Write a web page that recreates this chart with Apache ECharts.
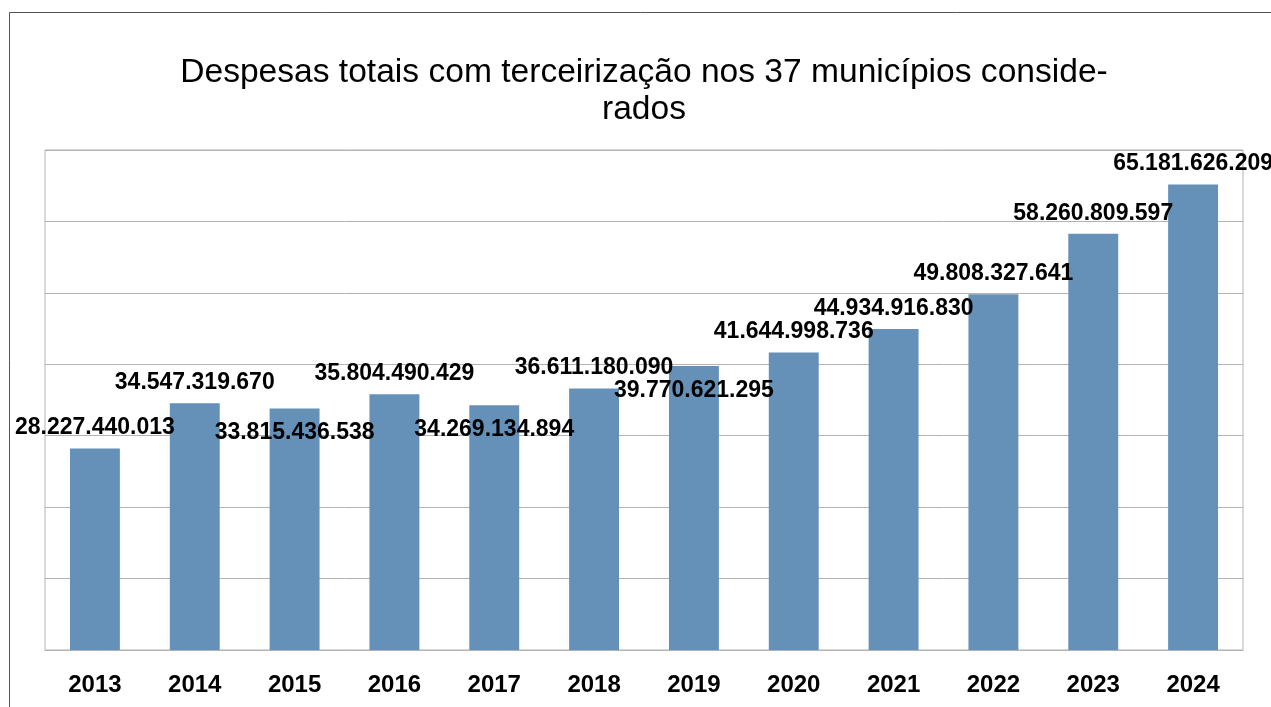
<!DOCTYPE html>
<html>
<head>
    <meta charset="utf-8">
    <title>Despesas totais com terceirização</title>
    <script src="https://cdn.jsdelivr.net/npm/echarts@6/dist/echarts.min.js"></script>
    <style>
        html, body { margin: 0; padding: 0; background: #fff; }
        #chart { width: 1271px; height: 707px; }
    </style>
</head>
<body>
    <div id="chart"></div>
    <script type="text/javascript">
        var years = ['2013', '2014', '2015', '2016', '2017', '2018', '2019', '2020', '2021', '2022', '2023', '2024'];
        var despesas = [28227440013, 34547319670, 33815436538, 35804490429, 34269134894, 36611180090,
                        39770621295, 41644998736, 44934916830, 49808327641, 58260809597, 65181626209];
        // anos cujo rótulo fica abaixo do topo da barra (como no original)
        var rotuloBaixo = ['2015', '2017', '2019'];

        function formata(v) {
            return String(v).replace(/\B(?=(\d{3})+(?!\d))/g, '.');
        }

        var dados = years.map(function (ano, i) {
            var item = { value: despesas[i] };
            if (rotuloBaixo.indexOf(ano) >= 0) {
                item.label = { position: 'insideTop', distance: 13 };
            }
            return item;
        });

        var myChart = echarts.init(document.getElementById('chart'));
        var option = {
            backgroundColor: '#fff',
            animation: false,
            title: {
                text: 'Despesas totais com terceirização nos 37 municípios conside-\nrados',
                left: 644,
                textAlign: 'center',
                top: 54,
                padding: 0,
                textStyle: {
                    fontFamily: 'Liberation Sans',
                    fontSize: 33.6,
                    fontWeight: 'normal',
                    color: '#000',
                    lineHeight: 37,
                    align: 'center'
                }
            },
            graphic: [{
                type: 'rect',
                shape: { x: 9.5, y: 12.5, width: 1400, height: 800 },
                style: { fill: 'none', stroke: '#555', lineWidth: 1 },
                silent: true
            }],
            grid: {
                left: 45,
                right: 28,
                top: 150,
                bottom: 57,
                show: true,
                borderColor: '#b3b3b3',
                borderWidth: 1
            },
            xAxis: {
                type: 'category',
                data: years,
                axisLine: { lineStyle: { color: '#b3b3b3' } },
                axisTick: { length: 9, lineStyle: { color: '#b3b3b3' } },
                axisLabel: {
                    margin: 23,
                    color: '#000',
                    fontFamily: 'Liberation Sans',
                    fontWeight: 'bold',
                    fontSize: 24
                }
            },
            yAxis: {
                type: 'value',
                min: 0,
                max: 70000000000,
                interval: 10000000000,
                axisLabel: { show: false },
                axisLine: { show: false },
                axisTick: { show: false },
                splitLine: { lineStyle: { color: '#b3b3b3' } }
            },
            series: [{
                type: 'bar',
                data: dados,
                barWidth: '50%',
                itemStyle: { color: '#6590b8' },
                label: {
                    show: true,
                    position: 'top',
                    distance: 9,
                    formatter: function (p) { return formata(p.value); },
                    color: '#000',
                    fontFamily: 'Liberation Sans',
                    fontWeight: 'bold',
                    fontSize: 23
                }
            }]
        };
        myChart.setOption(option);
    </script>
</body>
</html>
